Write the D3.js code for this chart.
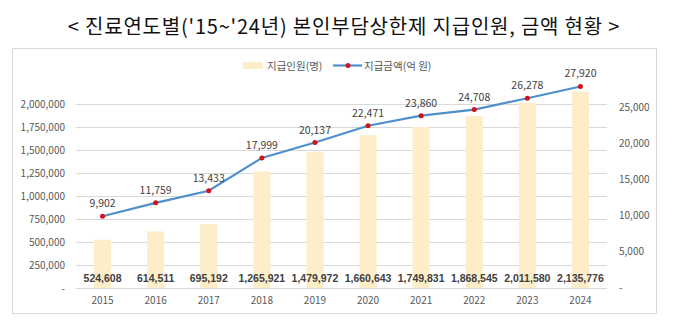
<!DOCTYPE html>
<html><head><meta charset="utf-8">
<script src="https://cdn.jsdelivr.net/npm/d3@7"></script>
<style>body{margin:0;background:#fff;}svg{display:block;}</style>
</head><body>
<script>
const years = ["2015","2016","2017","2018","2019","2020","2021","2022","2023","2024"];
const people = [524608,614511,695192,1265921,1479972,1660643,1749831,1868545,2011580,2135776];
const amounts = [9902,11759,13433,17999,20137,22471,23860,24708,26278,27920];
const leftTicks = [0,250000,500000,750000,1000000,1250000,1500000,1750000,2000000];
const rightTicks = [0,5000,10000,15000,20000,25000];
const title = "< 진료연도별('15~'24년) 본인부담상한제 지급인원, 금액 현황 >";
const legendBar = "지급인원(명)";
const legendLine = "지급금액(억 원)";

const W=680,H=325;
const svg=d3.select("body").append("svg").attr("width",W).attr("height",H);
const font="'Noto Sans CJK KR','Noto Sans',sans-serif";
svg.append("text").attr("x",344).attr("y",34).attr("text-anchor","middle")
  .attr("font-family",font).attr("font-size",20).attr("letter-spacing",0.8).attr("fill","#111").text(title);
svg.append("rect").attr("x",12.5).attr("y",48.5).attr("width",644).attr("height",265)
  .attr("fill","none").attr("stroke","#d9d9d9");

const x=d3.scaleBand().domain(years).range([76,607]);
const yL=d3.scaleLinear().domain([0,2000000]).range([288,104]);
const yR=d3.scaleLinear().domain([0,25000]).range([287.5,107.5]);
const fmt=d3.format(",");

svg.append("g").selectAll("line").data(leftTicks).join("line")
  .attr("x1",76).attr("x2",607).attr("y1",d=>Math.round(yL(d))+0.5).attr("y2",d=>Math.round(yL(d))+0.5)
  .attr("stroke","#d9d9d9").attr("stroke-width",1);

const axisL=d3.axisLeft(yL).tickValues(leftTicks).tickSize(0).tickPadding(0)
  .tickFormat(d=>d===0?"-":fmt(d));
const gL=svg.append("g").attr("transform","translate(65,0)").call(axisL);
gL.select(".domain").remove();
gL.selectAll("text").attr("font-family",font).attr("font-size",10).attr("fill","#595959");

const axisR=d3.axisRight(yR).tickValues(rightTicks).tickSize(0).tickPadding(0)
  .tickFormat(d=>d===0?"-":fmt(d));
const gR=svg.append("g").attr("transform","translate(619,0)").call(axisR);
gR.select(".domain").remove();
gR.selectAll("text").attr("font-family",font).attr("font-size",10).attr("fill","#595959");

const axisB=d3.axisBottom(x).tickSize(0).tickPadding(0);
const gB=svg.append("g").attr("transform","translate(0,297)").call(axisB);
gB.select(".domain").remove();
gB.selectAll("text").attr("font-family",font).attr("font-size",10).attr("fill","#595959");

const bw=17;
svg.append("g").selectAll("rect").data(years).join("rect")
  .attr("x",d=>x(d)+x.bandwidth()/2-bw/2).attr("width",bw)
  .attr("y",(d,i)=>yL(people[i])).attr("height",(d,i)=>yL(0)-yL(people[i]))
  .attr("fill","#FDEDC8");

svg.append("g").selectAll("text").data(years).join("text")
  .attr("x",d=>x(d)+x.bandwidth()/2).attr("y",282).attr("text-anchor","middle")
  .attr("font-family","'Liberation Sans',Arial,sans-serif").attr("font-size",10.5).attr("font-weight","bold").attr("fill","#404040")
  .text((d,i)=>fmt(people[i]));

const line=d3.line().x((d,i)=>x(years[i])+x.bandwidth()/2).y(d=>yR(d));
svg.append("path").datum(amounts).attr("d",line).attr("fill","none")
  .attr("stroke","#4F8FCB").attr("stroke-width",2.2);
svg.append("g").selectAll("circle").data(amounts).join("circle")
  .attr("cx",(d,i)=>x(years[i])+x.bandwidth()/2).attr("cy",d=>yR(d)).attr("r",2.5).attr("fill","#D0121B");
svg.append("g").selectAll("text").data(amounts).join("text")
  .attr("x",(d,i)=>x(years[i])+x.bandwidth()/2).attr("y",d=>yR(d)-9).attr("text-anchor","middle")
  .attr("font-family",font).attr("font-size",10.5).attr("fill","#404040")
  .text(d=>fmt(d));

const lg=svg.append("g");
lg.append("rect").attr("x",243).attr("y",62).attr("width",20).attr("height",7).attr("fill","#FDEDC8");
lg.append("text").attr("x",267).attr("y",69.5).attr("font-family",font).attr("font-size",10.5).attr("fill","#595959").text(legendBar);
lg.append("line").attr("x1",333).attr("x2",362).attr("y1",65.5).attr("y2",65.5).attr("stroke","#4F8FCB").attr("stroke-width",2.2);
lg.append("circle").attr("cx",348).attr("cy",65.5).attr("r",2.5).attr("fill","#D0121B");
lg.append("text").attr("x",364).attr("y",69.5).attr("font-family",font).attr("font-size",10.5).attr("fill","#595959").text(legendLine);
</script>
</body></html>
